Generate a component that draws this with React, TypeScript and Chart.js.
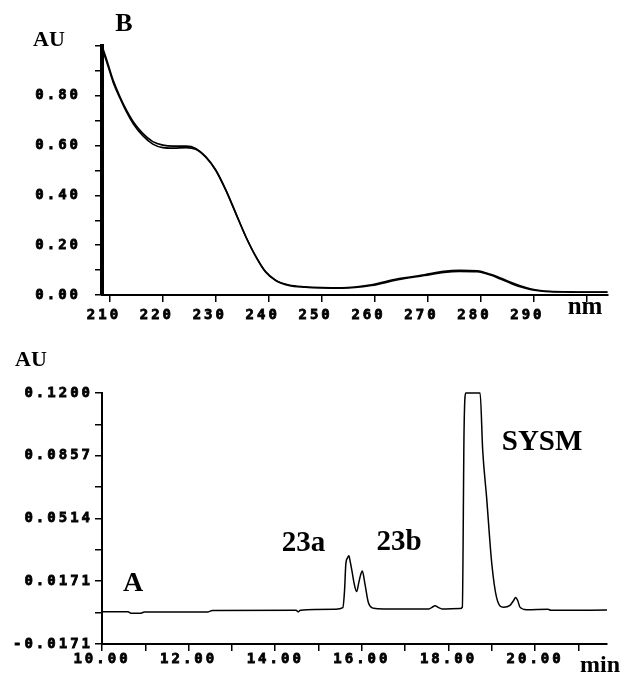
import React, { useEffect, useRef } from "react";
import { Chart, registerables } from "chart.js";

Chart.register(...registerables);

// ---- Panel B : UV spectrum ----
const spectrumWavelengths = [208.5, 209.4, 210.6, 211.9, 213.1, 214.4, 216.2, 218.1, 220, 222, 224.4, 226.2, 228.1, 230, 231.9, 233.8, 235.7, 237.6, 239.4, 241.3, 243.8, 246.9, 250, 253.8, 259.4, 264.4, 269.4, 273.1, 276, 279.4, 281.9, 283.8, 285.6, 287.5, 289.4, 291.3, 293.1, 296, 300, 304];
const spectrumAbsA = [1.0, 0.944, 0.863, 0.796, 0.743, 0.696, 0.649, 0.616, 0.602, 0.598, 0.598, 0.589, 0.556, 0.502, 0.422, 0.328, 0.234, 0.154, 0.094, 0.06, 0.04, 0.033, 0.03, 0.029, 0.041, 0.065, 0.081, 0.095, 0.099, 0.097, 0.083, 0.068, 0.052, 0.037, 0.025, 0.018, 0.015, 0.013, 0.012, 0.012];
const spectrumAbsB = [0.99, 0.935, 0.855, 0.79, 0.736, 0.688, 0.64, 0.606, 0.592, 0.59, 0.592, 0.585, 0.553, 0.5, 0.42, 0.326, 0.232, 0.152, 0.092, 0.058, 0.038, 0.031, 0.028, 0.027, 0.038, 0.061, 0.078, 0.091, 0.095, 0.094, 0.08, 0.064, 0.048, 0.033, 0.022, 0.016, 0.013, 0.012, 0.011, 0.011];
const spectrumYTicks = [0, 0.1, 0.2, 0.3, 0.4, 0.5, 0.6, 0.7, 0.8, 0.9, 1.0];
const spectrumYLabels = ["0.00", "", "0.20", "", "0.40", "", "0.60", "", "0.80", "", ""];
const spectrumXTicks = [210, 220, 230, 240, 250, 260, 270, 280, 290, 300];
const spectrumXLabels = ["210", "220", "230", "240", "250", "260", "270", "280", "290", ""];

// ---- Panel A : chromatogram ----
const chromTimes = [10.0, 10.6, 10.68, 10.9, 10.98, 12.45, 12.55, 14.48, 14.53, 14.58, 15.4, 15.56, 15.6, 15.63, 15.67, 15.7, 15.73, 15.77, 15.83, 15.88, 15.93, 15.97, 16.01, 16.07, 16.15, 16.27, 16.5, 17.55, 17.62, 17.69, 17.76, 17.85, 18.27, 18.32, 18.36, 18.4, 18.73, 18.79, 18.88, 19.0, 19.11, 19.27, 19.42, 19.5, 19.55, 19.6, 19.65, 19.8, 20.3, 20.36, 21.66];
const chromAbs = [0.0005, 0.0005, -0.0004, -0.0003, 0.0004, 0.0004, 0.0012, 0.0013, 0.0004, 0.0013, 0.0018, 0.0027, 0.012, 0.0266, 0.03, 0.0311, 0.028, 0.0229, 0.015, 0.0115, 0.0165, 0.0205, 0.0228, 0.0158, 0.0055, 0.0024, 0.002, 0.002, 0.0029, 0.0037, 0.0029, 0.002, 0.0022, 0.003, 0.1, 0.12, 0.12, 0.0887, 0.063, 0.0267, 0.0083, 0.003, 0.004, 0.0065, 0.0083, 0.0065, 0.003, 0.0016, 0.0018, 0.0013, 0.0014];
const chromYTicks = [-0.017143, 0, 0.017143, 0.034286, 0.051429, 0.068571, 0.085714, 0.102857, 0.12];
const chromYLabels = ["-0.0171", "", "0.0171", "", "0.0514", "", "0.0857", "", "0.1200"];
const chromXTicks = [10, 11, 12, 13, 14, 15, 16, 17, 18, 19, 20, 21];
const chromXLabels = ["10.00", "", "12.00", "", "14.00", "", "16.00", "", "18.00", "", "20.00", ""];

const tickFont = { family: "'DejaVu Sans Mono', monospace", size: 14, weight: "bold" as const };
const serif = "'Liberation Serif', 'Times New Roman', serif";

type Note = { text: string; size: number; x: number; y: number; data?: boolean };

const notesPlugin = (notes: Note[]) => ({
  id: "notes",
  beforeDraw(chart: any) {
    chart.ctx.letterSpacing = "3px";
  },
  afterDraw(chart: any) {
    const ctx = chart.ctx;
    ctx.save();
    ctx.letterSpacing = "0px";
    ctx.fillStyle = "#000";
    ctx.textAlign = "center";
    ctx.textBaseline = "middle";
    for (const n of notes) {
      ctx.font = `bold ${n.size}px ${serif}`;
      const px = n.data ? chart.scales.x.getPixelForValue(n.x) : n.x;
      const py = n.data ? chart.scales.y.getPixelForValue(n.y) : n.y;
      ctx.fillText(n.text, px, py);
    }
    ctx.restore();
  },
});

function axisCfg(opts: {
  ticks: number[];
  labels: string[];
  min: number;
  max: number;
  fit: (s: any) => void;
  padding: number;
  labelOffset?: number;
  borderWidth: number;
}) {
  return {
    type: "linear" as const,
    min: opts.min,
    max: opts.max,
    afterBuildTicks: (s: any) => {
      s.ticks = opts.ticks.map((v) => ({ value: v }));
    },
    afterFit: opts.fit,
    ticks: {
      autoSkip: false,
      maxRotation: 0,
      minRotation: 0,
      color: "#000",
      font: tickFont,
      textStrokeColor: "#000",
      textStrokeWidth: 0.8,
      padding: opts.padding,
      labelOffset: opts.labelOffset ?? 0,
      callback: (_v: any, i: number) => opts.labels[i],
    },
    grid: {
      drawOnChartArea: false,
      drawTicks: true,
      tickLength: 7,
      color: "#000",
      lineWidth: 1.5,
    },
    border: { display: true, color: "#000", width: opts.borderWidth },
  };
}

export default function App() {
  const topRef = useRef<HTMLCanvasElement>(null);
  const botRef = useRef<HTMLCanvasElement>(null);

  useEffect(() => {
    const top = new Chart(topRef.current!, {
      type: "line",
      data: {
        datasets: [
          {
            data: spectrumWavelengths.map((w, i) => ({ x: w, y: spectrumAbsA[i] })),
            borderColor: "#000",
            borderWidth: 1.6,
            pointRadius: 0,
            fill: false,
            cubicInterpolationMode: "monotone",
            clip: false as any,
          },
          {
            data: spectrumWavelengths.map((w, i) => ({ x: w, y: spectrumAbsB[i] })),
            borderColor: "#000",
            borderWidth: 1.6,
            pointRadius: 0,
            fill: false,
            cubicInterpolationMode: "monotone",
            clip: false as any,
          },
        ],
      },
      options: {
        responsive: false,
        animation: false,
        devicePixelRatio: 1,
        layout: { padding: { top: 46, right: 21, left: 0, bottom: 0 } },
        plugins: { legend: { display: false }, tooltip: { enabled: false } },
        scales: {
          x: axisCfg({
            ticks: spectrumXTicks,
            labels: spectrumXLabels,
            min: 208.5,
            max: 304.1,
            fit: (s) => { s.height = 35; },
            padding: 5,
            labelOffset: -6,
            borderWidth: 2,
          }),
          y: axisCfg({
            ticks: spectrumYTicks,
            labels: spectrumYLabels,
            min: 0,
            max: 1.0,
            fit: (s) => { s.width = 102; },
            padding: 14,
            borderWidth: 4,
          }),
        },
      },
      plugins: [
        notesPlugin([
          { text: "B", size: 26, x: 124, y: 24 },
          { text: "AU", size: 22, x: 49, y: 40 },
          { text: "nm", size: 25, x: 585, y: 308 },
        ]),
      ],
    } as any);

    const bot = new Chart(botRef.current!, {
      type: "line",
      data: {
        datasets: [
          {
            data: chromTimes.map((t, i) => ({ x: t, y: chromAbs[i] })),
            borderColor: "#000",
            borderWidth: 1.5,
            pointRadius: 0,
            fill: false,
            cubicInterpolationMode: "monotone",
            clip: false as any,
          },
        ],
      },
      options: {
        responsive: false,
        animation: false,
        devicePixelRatio: 1,
        layout: { padding: { top: 63, right: 22, left: 0, bottom: 0 } },
        plugins: { legend: { display: false }, tooltip: { enabled: false } },
        scales: {
          x: axisCfg({
            ticks: chromXTicks,
            labels: chromXLabels,
            min: 10,
            max: 21.66,
            fit: (s) => { s.height = 29; },
            padding: 0,
            borderWidth: 2,
          }),
          y: axisCfg({
            ticks: chromYTicks,
            labels: chromYLabels,
            min: -0.017143,
            max: 0.12,
            fit: (s) => { s.width = 102; },
            padding: 2,
            borderWidth: 2,
          }),
        },
      },
      plugins: [
        notesPlugin([
          { text: "AU", size: 22, x: 31, y: 30 },
          { text: "min", size: 24, x: 600, y: 336 },
          { text: "A", size: 28, x: 10.72, y: 0.016, data: true },
          { text: "23a", size: 29, x: 14.65, y: 0.0377, data: true },
          { text: "23b", size: 29, x: 16.86, y: 0.0383, data: true },
          { text: "SYSM", size: 29, x: 20.16, y: 0.0928, data: true },
        ]),
      ],
    } as any);

    return () => {
      top.destroy();
      bot.destroy();
    };
  }, []);

  return (
    <div style={{ position: "fixed", left: 0, top: 0, width: 629, height: 673, background: "#fff" }}>
      <canvas ref={topRef} width={629} height={330} style={{ position: "absolute", left: 0, top: 0, display: "block" }} />
      <canvas ref={botRef} width={629} height={343} style={{ position: "absolute", left: 0, top: 330, display: "block" }} />
    </div>
  );
}
